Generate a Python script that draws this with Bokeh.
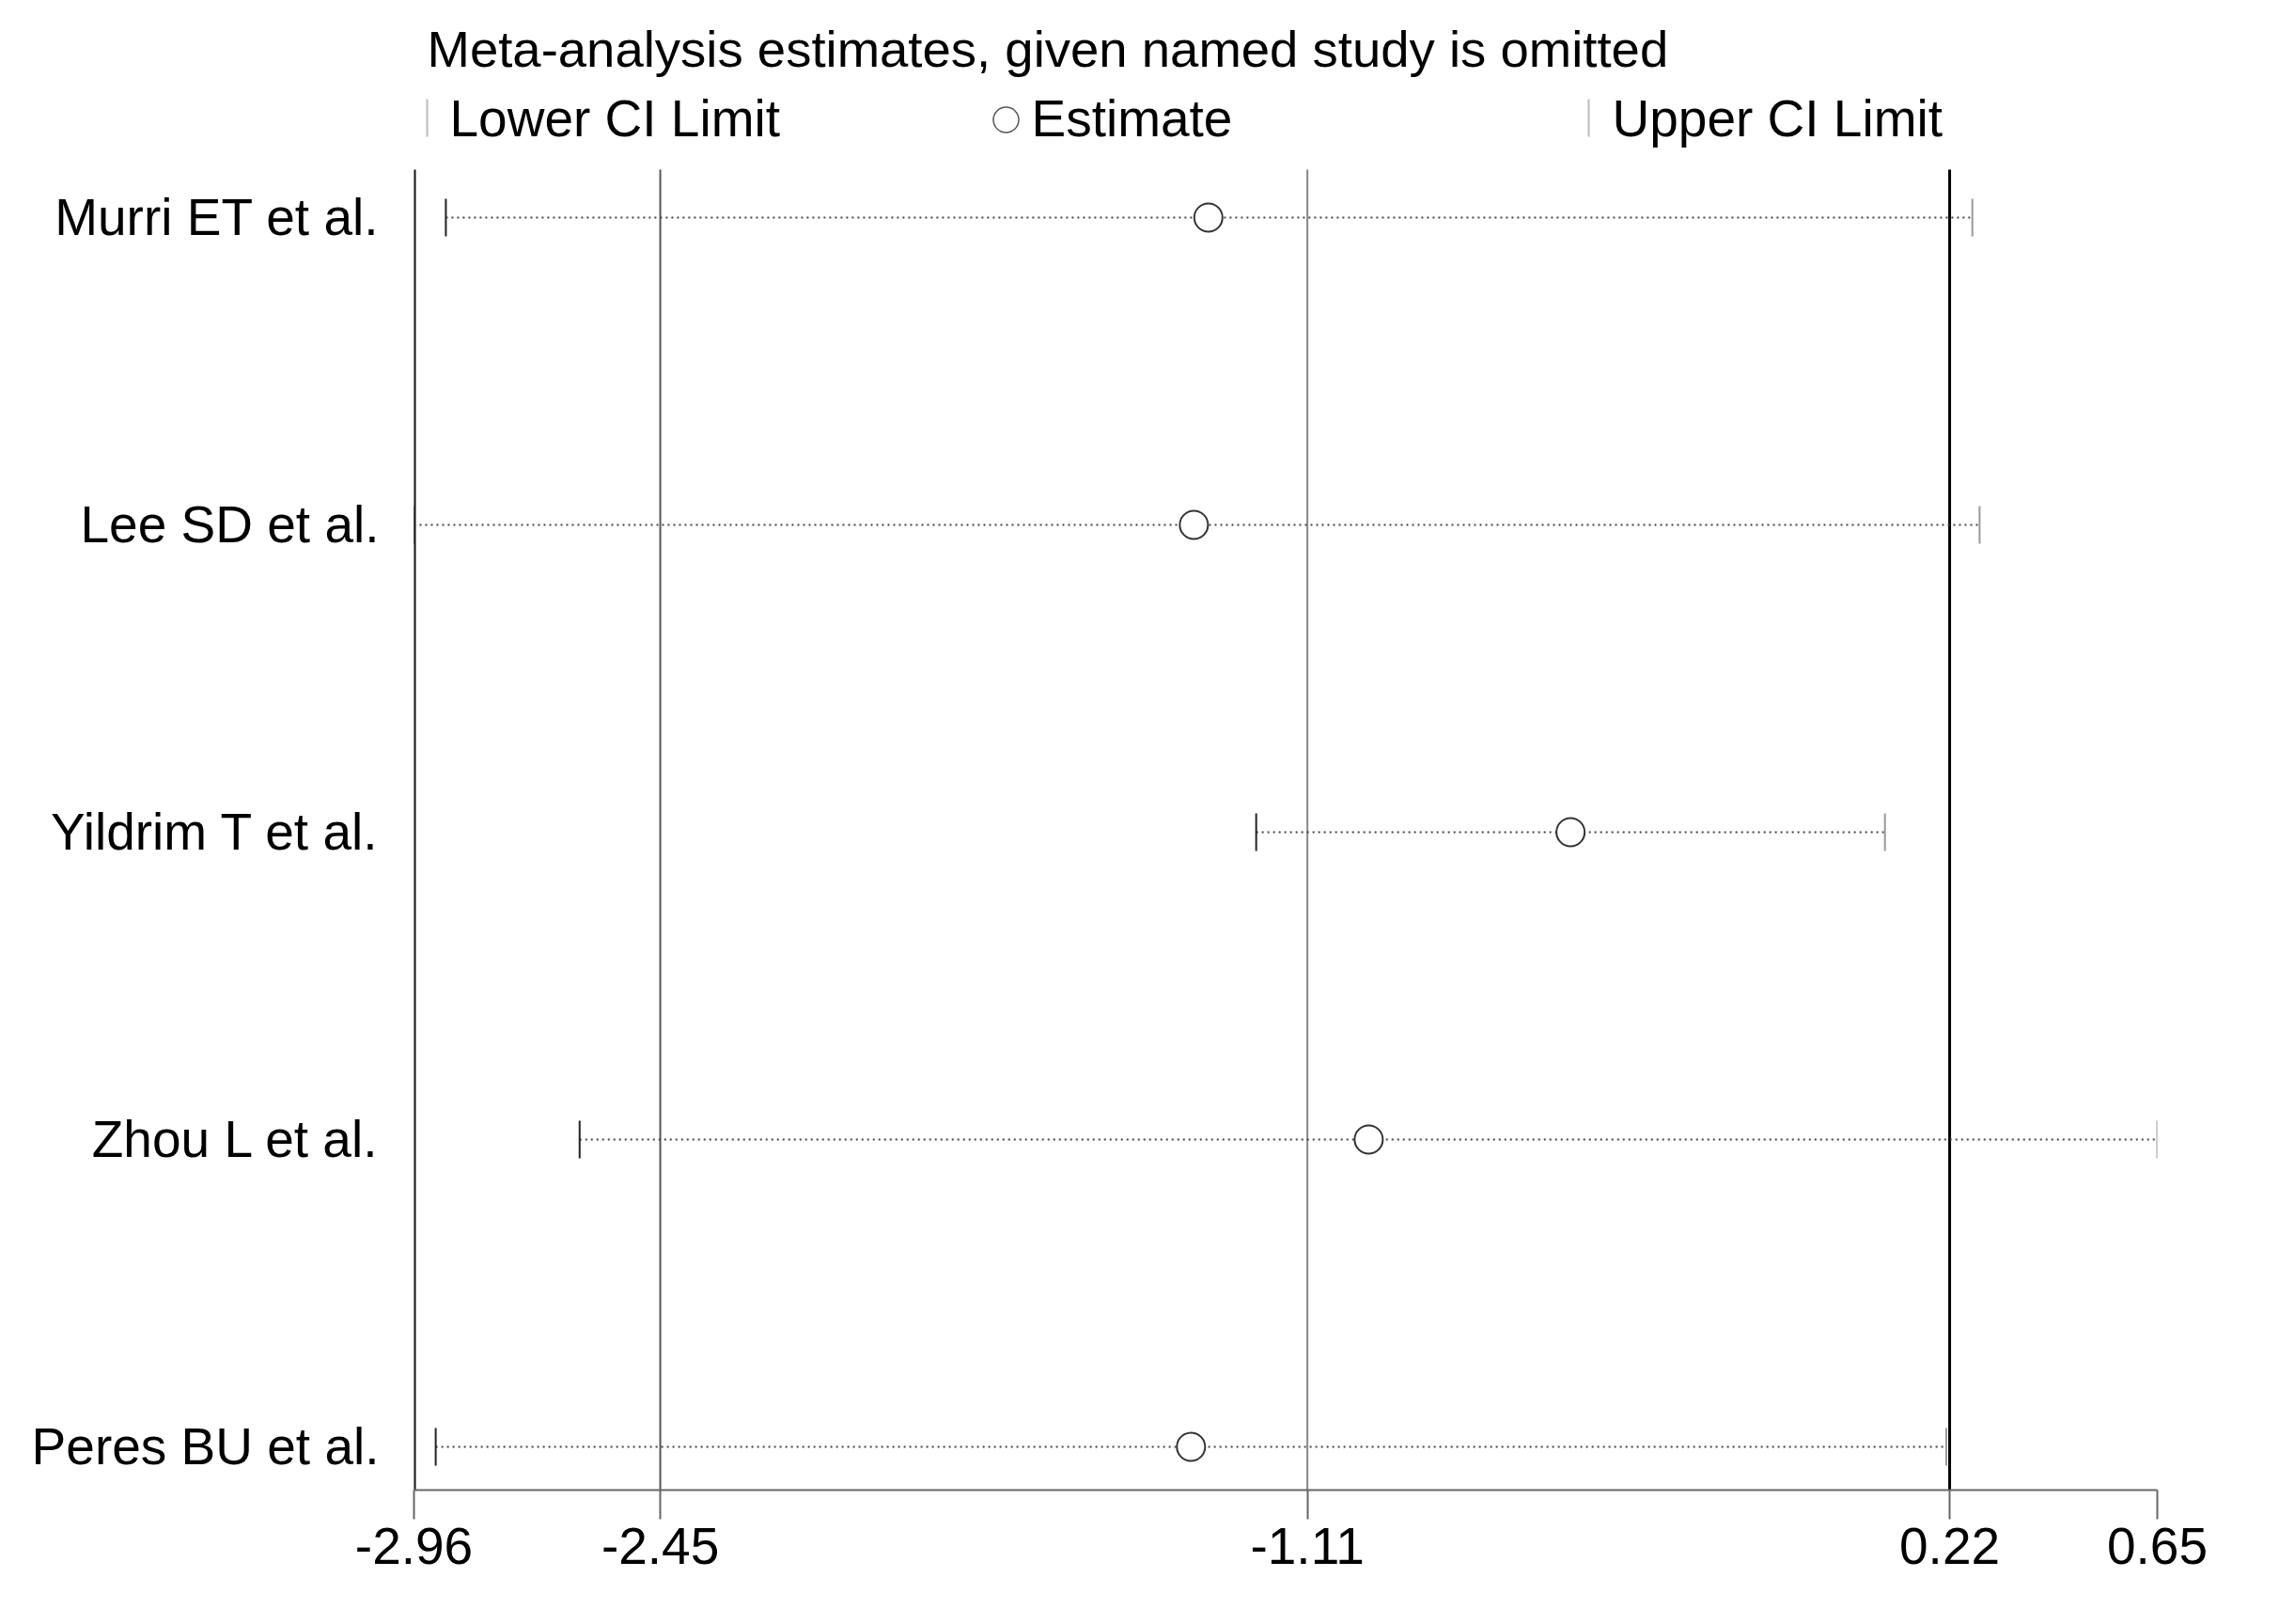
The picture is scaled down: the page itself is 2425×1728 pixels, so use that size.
import math
from bokeh.plotting import figure
from bokeh.models import Range1d, FixedTicker, ColumnDataSource
from bokeh.core.properties import value
from bokeh.embed import file_html
from bokeh.resources import INLINE

# ---------------- data ----------------
studies = ["Murri ET et al.", "Lee SD et al.", "Yildrim T et al.",
           "Zhou L et al.", "Peres BU et al."]
lower = [-2.894, -2.96, -1.216, -2.617, -2.915]
estimate = [-1.315, -1.345, -0.565, -0.983, -1.351]
upper = [0.267, 0.282, 0.086, 0.65, 0.213]

ref_lines = [-2.96, -2.45, -1.11, 0.22]
ref_colors = ["#111111", "#555555", "#888888", "#000000"]
ref_widths = [4, 2, 2, 3]

x_ticks = [-2.96, -2.45, -1.11, 0.22, 0.65]
x_tick_labels = ["-2.96", "-2.45", "-1.11", "0.22", "0.65"]

title_text = "Meta-analysis estimates, given named study is omitted"
legend_labels = ["Lower CI Limit", "Estimate", "Upper CI Limit"]

# ---------------- layout ----------------
FONT = "Liberation Sans"
FS = "55px"
W, H = 2405, 1708
BL, BR, BT, BB = 440, 110, 0, 123
FW = W - BL - BR
FH = H - BT - BB

n = len(studies)
ypos = list(range(n, 0, -1))

xmin, xmax = min(x_ticks), max(x_ticks)
ymin, ymax = 1 - 0.1407, n + 0.7064     # padding below last row / above first row
line_top = n + 0.156                    # top of the reference lines

kx = FW / (xmax - xmin)
ky = FH / (ymax - ymin)


def dx(cx):   # canvas pixel x -> data x
    return xmin + (cx - BL) / kx


def dy(cy):   # canvas pixel y -> data y
    return ymax - (cy - BT) / ky


src = ColumnDataSource(dict(y=ypos, lower=lower, est=estimate, upper=upper))

p = figure(width=W, height=H, output_backend="svg", toolbar_location=None,
           x_range=Range1d(xmin, xmax), y_range=Range1d(ymin, ymax),
           min_border_left=BL, min_border_right=BR,
           min_border_top=BT, min_border_bottom=BB)
p.outline_line_color = None
p.grid.visible = False
p.background_fill_color = "white"
p.border_fill_color = "white"

# reference vertical lines
p.segment(x0=ref_lines, x1=ref_lines, y0=[ymin] * len(ref_lines),
          y1=[line_top] * len(ref_lines), line_color=ref_colors,
          line_width=ref_widths)

# dotted CI lines
p.segment(x0="lower", x1="upper", y0="y", y1="y", source=src,
          line_color="#444444", line_width=2, line_dash="2 4")
# CI end ticks
p.scatter(x="lower", y="y", source=src, marker="dash", angle=math.pi / 2,
          size=40, line_color="#222222", line_width=2)
p.scatter(x="upper", y="y", source=src, marker="dash", angle=math.pi / 2,
          size=40, line_color="#999999", line_width=2)
# estimates
p.scatter(x="est", y="y", source=src, marker="circle", size=30,
          fill_color="white", line_color="#333333", line_width=2)

# x axis
xa = p.xaxis[0]
xa.ticker = FixedTicker(ticks=x_ticks)
xa.major_label_overrides = {t: l for t, l in zip(x_ticks, x_tick_labels)}
xa.axis_line_color = "#666666"
xa.axis_line_width = 2
xa.major_tick_line_color = "#666666"
xa.major_tick_line_width = 2
xa.major_tick_out = 31
xa.major_tick_in = 0
xa.minor_tick_line_color = None
xa.major_label_text_font = FONT
xa.major_label_text_font_size = FS
xa.major_label_text_color = "black"
xa.major_label_standoff = 9

# y axis (study names)
ya = p.yaxis[0]
ya.ticker = FixedTicker(ticks=ypos)
ya.major_label_overrides = {y: s for y, s in zip(ypos, studies)}
ya.axis_line_color = None
ya.major_tick_line_color = None
ya.minor_tick_line_color = None
ya.major_tick_out = 0
ya.major_tick_in = 0
ya.major_label_text_font = FONT
ya.major_label_text_font_size = FS
ya.major_label_text_color = "black"
ya.major_label_standoff = 37

# title
p.text(x=[dx(454)], y=[dy(52)], text=[title_text], text_font=value(FONT),
       text_font_size=value("54.5px"), text_color="black",
       text_align="left", text_baseline="alphabetic")

# legend row
p.segment(x0=[dx(454), dx(1690)], x1=[dx(454), dx(1690)],
          y0=[dy(105)] * 2, y1=[dy(145)] * 2,
          line_color="#bbbbbb", line_width=2)
p.scatter(x=[dx(1070)], y=[dy(127)], marker="circle", size=27,
          fill_color="white", line_color="#555555", line_width=1.5)
p.text(x=[dx(478), dx(1097), dx(1715)], y=[dy(125)] * 3, text=legend_labels,
       text_font=value(FONT), text_font_size=value(FS), text_color="black",
       text_align="left", text_baseline="alphabetic")

open("out.html", "w").write(file_html(p, INLINE))
